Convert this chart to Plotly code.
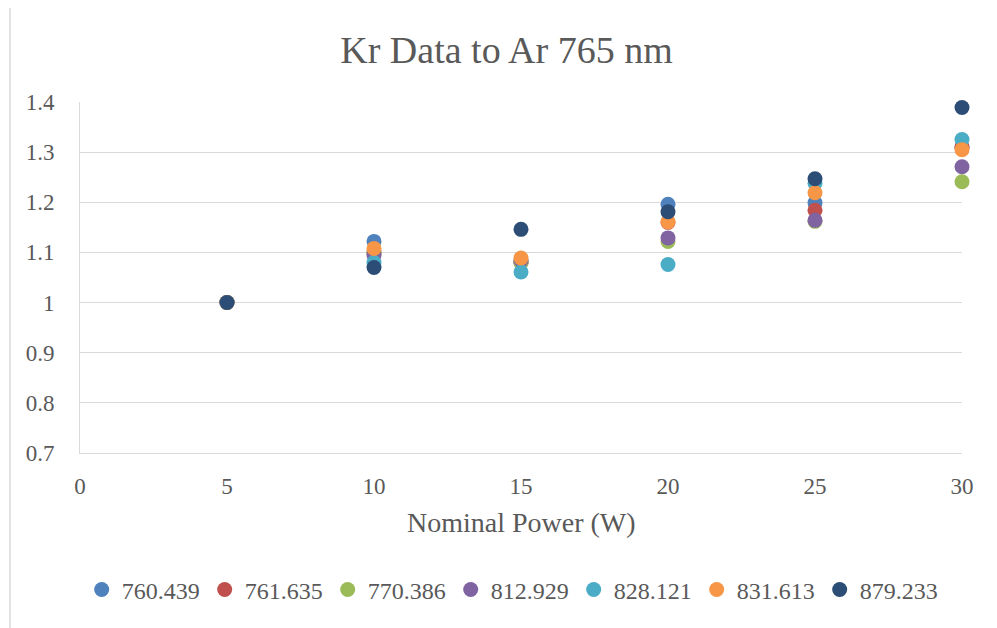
import plotly.graph_objects as go

power = [5, 10, 15, 20, 25, 30]

series_names = ["760.439", "761.635", "770.386", "812.929", "828.121", "831.613", "879.233"]
s760 = [1.0, 1.122, 1.080, 1.196, 1.199, 1.310]
s761 = [1.0, 1.100, 1.080, 1.160, 1.184, 1.310]
s770 = [1.0, 1.100, 1.080, 1.122, 1.162, 1.241]
s812 = [1.0, 1.094, 1.085, 1.129, 1.164, 1.271]
s828 = [1.0, 1.080, 1.061, 1.076, 1.238, 1.325]
s831 = [1.0, 1.108, 1.089, 1.161, 1.219, 1.305]
s879 = [1.0, 1.070, 1.146, 1.181, 1.247, 1.389]

colors = ["#4F81BD", "#C0504D", "#9BBB59", "#8064A2", "#4BACC6", "#F79646", "#2C4D75"]
all_series = [s760, s761, s770, s812, s828, s831, s879]

font = "Liberation Serif"
grey = "#595959"

fig = go.Figure()
for name, vals, col in zip(series_names, all_series, colors):
    fig.add_trace(go.Scatter(x=power, y=vals, mode="markers", name=name, cliponaxis=False,
                             marker=dict(size=15, color=col)))

# page body adds 8px offset, margins compensate
fig.update_layout(
    width=997, height=628,
    paper_bgcolor="white", plot_bgcolor="white",
    margin=dict(l=72, r=43, t=94, b=183),
    title=dict(text="Kr Data to Ar 765 nm", x=0.5, xanchor="center",
               y=0.933, yanchor="middle",
               font=dict(family=font, size=38, color=grey)),
    font=dict(family=font, color=grey),
    legend=dict(orientation="h", x=0.49, xanchor="center", y=-0.39, yanchor="middle",
                font=dict(size=24, color=grey), itemwidth=30, tracegroupgap=0),
    showlegend=True,
)
fig.update_xaxes(range=[0, 30], dtick=5, showgrid=False, zeroline=False,
                 showline=True, linecolor="#D9D9D9", ticks="", ticklabelstandoff=12,
                 tickfont=dict(size=23, color=grey))
fig.update_yaxes(range=[0.7, 1.4], dtick=0.1, showgrid=True, gridcolor="#D9D9D9",
                 zeroline=False, showline=True, linecolor="#D9D9D9", ticks="",
                 tickformat="~g", ticklabelstandoff=20,
                 tickfont=dict(size=23, color=grey))
fig.add_annotation(text="Nominal Power (W)", xref="paper", yref="paper",
                   x=0.5, y=-0.197, xanchor="center", yanchor="middle", showarrow=False,
                   font=dict(size=28, color=grey))
fig.add_shape(type="rect", xref="paper", yref="paper", x0=-0.0794, x1=1.0374, y0=-0.6, y1=1.276,
              line=dict(color="#D9D9D9", width=1.5))

fig.write_html("out.html")
